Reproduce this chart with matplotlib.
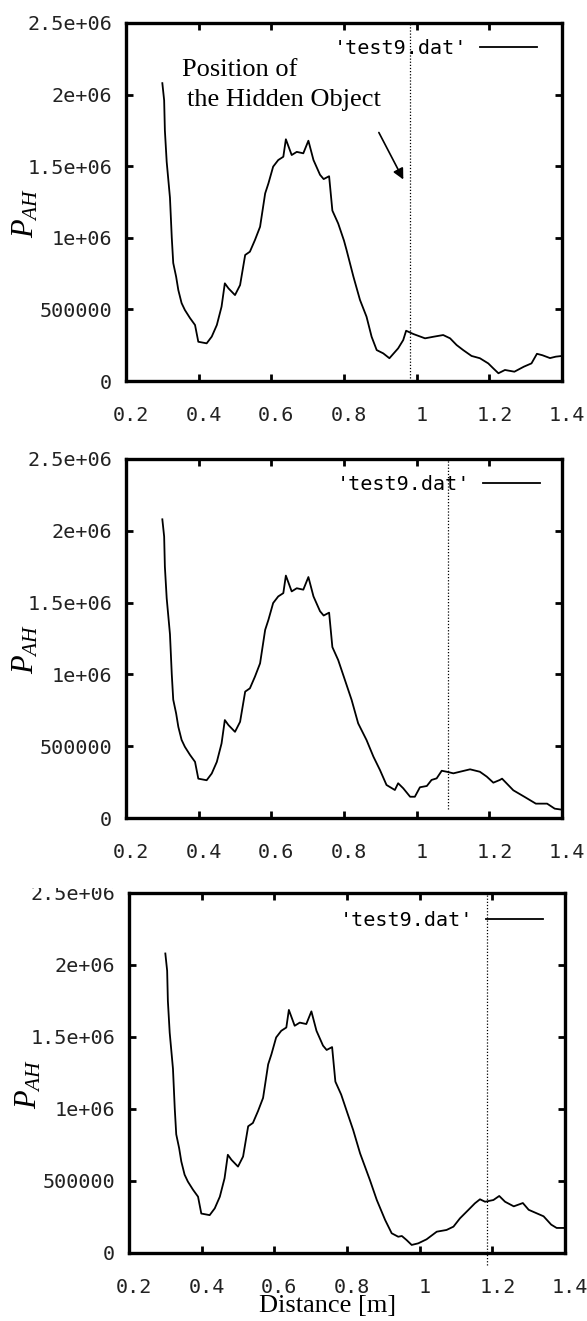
import matplotlib
matplotlib.use("Agg")
import matplotlib.pyplot as plt
import matplotlib.transforms as mtransforms
from matplotlib.patches import Rectangle

plt.rcParams["mathtext.fontset"] = "custom"
plt.rcParams["mathtext.rm"] = "Liberation Serif"
plt.rcParams["mathtext.it"] = "Liberation Serif:italic"

# shared part of the curve (distance [m], P_AH in 1e6)
head_x = [0.300, 0.305, 0.307, 0.312, 0.321, 0.326, 0.330, 0.338, 0.344, 0.353,
          0.362, 0.376, 0.390, 0.399, 0.422, 0.436, 0.450, 0.463, 0.472, 0.482,
          0.500, 0.514, 0.528, 0.541, 0.555, 0.569, 0.583, 0.592, 0.605, 0.619,
          0.633, 0.640, 0.656, 0.670, 0.688, 0.702, 0.716, 0.734, 0.744, 0.759,
          0.768, 0.784, 0.800]
head_v = [2.08, 1.96, 1.75, 1.53, 1.28, 1.00, 0.824, 0.728, 0.635, 0.544,
          0.496, 0.44, 0.391, 0.274, 0.263, 0.31, 0.391, 0.519, 0.682, 0.647,
          0.60, 0.67, 0.88, 0.903, 0.985, 1.077, 1.31, 1.38, 1.497, 1.543,
          1.566, 1.688, 1.578, 1.60, 1.59, 1.678, 1.543, 1.44, 1.41, 1.43,
          1.19, 1.10, 0.98]

# tails that differ per measurement
p1_x = [0.807, 0.826, 0.844, 0.862, 0.876, 0.890, 0.908, 0.925, 0.949, 0.963,
        0.971, 0.991, 1.023, 1.046, 1.073, 1.092, 1.110, 1.128, 1.151, 1.174,
        1.197, 1.211, 1.225, 1.243, 1.269, 1.295, 1.316, 1.331, 1.346, 1.367,
        1.383, 1.400]
p1_v = [0.915, 0.728, 0.566, 0.449, 0.309, 0.216, 0.193, 0.159, 0.228, 0.286,
        0.351, 0.328, 0.298, 0.309, 0.321, 0.298, 0.251, 0.216, 0.175, 0.159,
        0.123, 0.088, 0.054, 0.077, 0.065, 0.10, 0.123, 0.19, 0.18, 0.16,
        0.17, 0.175]

p2_x = [0.821, 0.839, 0.862, 0.881, 0.899, 0.917, 0.940, 0.949, 0.963, 0.982,
        0.995, 1.009, 1.028, 1.041, 1.055, 1.069, 1.083, 1.101, 1.119, 1.147,
        1.174, 1.193, 1.211, 1.229, 1.235, 1.266, 1.297, 1.328, 1.359, 1.380,
        1.400]
p2_v = [0.822, 0.659, 0.543, 0.427, 0.334, 0.23, 0.195, 0.242, 0.207, 0.148,
        0.148, 0.214, 0.223, 0.265, 0.276, 0.329, 0.322, 0.311, 0.322, 0.339,
        0.322, 0.288, 0.246, 0.265, 0.274, 0.193, 0.147, 0.10, 0.10, 0.065,
        0.058]

p3_x = [0.817, 0.836, 0.863, 0.882, 0.905, 0.923, 0.941, 0.951, 0.964, 0.978,
        0.996, 1.019, 1.047, 1.074, 1.093, 1.111, 1.134, 1.152, 1.166, 1.180,
        1.203, 1.219, 1.235, 1.259, 1.284, 1.300, 1.320, 1.341, 1.362, 1.377,
        1.400]
p3_v = [0.854, 0.692, 0.507, 0.368, 0.229, 0.137, 0.113, 0.118, 0.09, 0.056,
        0.067, 0.095, 0.148, 0.16, 0.183, 0.241, 0.299, 0.345, 0.373, 0.356,
        0.368, 0.396, 0.356, 0.324, 0.347, 0.30, 0.278, 0.255, 0.197, 0.174,
        0.174]

# object position marker (x) and extent of the dotted line (1e6)
obj_x = [0.983, 1.085, 1.186]
obj_y0 = [0.02, 0.063, -0.084]

x_ticks = [0.2, 0.4, 0.6, 0.8, 1.0, 1.2, 1.4]
x_labels = ["0.2", "0.4", "0.6", "0.8", "1", "1.2", "1.4"]
y_ticks = [0, 500000, 1000000, 1500000, 2000000, 2500000]
y_labels = ["0", "500000", "1e+06", "1.5e+06", "2e+06", "2.5e+06"]

W, H = 587, 1321
fig = plt.figure(figsize=(W / 100, H / 100), dpi=100)

# axes boxes in pixels: left, right, top, bottom
boxes = [(126, 562, 23, 381), (126, 562, 459, 818), (129, 565, 893, 1253)]
tails = [(p1_x, p1_v), (p2_x, p2_v), (p3_x, p3_v)]
leg_anchor = [(0.943, 0.955), (0.95, 0.955), (0.95, 0.95)]

mono = {"family": "DejaVu Sans Mono", "size": 14.5}

for i, (l, r, t, b) in enumerate(boxes):
    ax = fig.add_axes([l / W, 1 - b / H, (r - l) / W, (b - t) / H])
    xs = head_x + tails[i][0]
    vs = [v * 1e6 for v in head_v + tails[i][1]]
    ax.plot(xs, vs, color="black", lw=1.3, label="'test9.dat'")
    ax.plot([obj_x[i], obj_x[i]], [obj_y0[i] * 1e6, 2.5e6], color="black",
            lw=0.9, ls=(0, (1, 1.5)), clip_on=False)

    ax.set_xlim(0.2, 1.4)
    ax.set_ylim(0, 2.5e6)
    ax.set_xticks(x_ticks)
    ax.set_xticklabels(x_labels, fontdict=mono, color="#222222")
    ax.set_yticks(y_ticks)
    ax.set_yticklabels(y_labels, fontdict=mono, color="#222222")
    ax.tick_params(axis="both", which="major", direction="in", length=5,
                   width=2, top=True, right=True)
    ax.tick_params(axis="x", pad=18)
    ax.tick_params(axis="y", pad=10)
    shift = mtransforms.ScaledTranslation(5 / 100, 0, fig.dpi_scale_trans)
    for lab in ax.get_xticklabels():
        lab.set_transform(lab.get_transform() + shift)
    for sp in ax.spines.values():
        sp.set_linewidth(2.4)

    ax.set_ylabel("$P_{AH}$", fontsize=22, va="center")
    ax.yaxis.set_label_coords(-0.23, 0.47)

    ax.legend(loc="upper right", bbox_to_anchor=leg_anchor[i], frameon=False,
              markerfirst=False, handlelength=2.85, handletextpad=0.65,
              borderpad=0, borderaxespad=0, prop=mono)

    if i == 0:
        ax.text(0.128, 0.852, "Position of", transform=ax.transAxes,
                family="Liberation Serif", fontsize=19, va="baseline")
        ax.text(0.14, 0.767, "the Hidden Object", transform=ax.transAxes,
                family="Liberation Serif", fontsize=19, va="baseline")
        ax.annotate("", xy=(0.639, 0.556), xytext=(0.577, 0.701),
                    xycoords="axes fraction", textcoords="axes fraction",
                    arrowprops=dict(arrowstyle="-|>", lw=1.2, color="black",
                                    mutation_scale=16))

fig.text(328 / W, 1 - 1306 / H, "Distance [m]", family="Liberation Serif",
         fontsize=19, ha="center", va="center")

# the lower panel was cropped just above its top tick label
fig.patches.append(Rectangle((0, 1 - 888 / H), 125 / W, 26 / H,
                             transform=fig.transFigure, facecolor="white",
                             edgecolor="none", zorder=10))

fig.savefig("out.png", dpi=100)
